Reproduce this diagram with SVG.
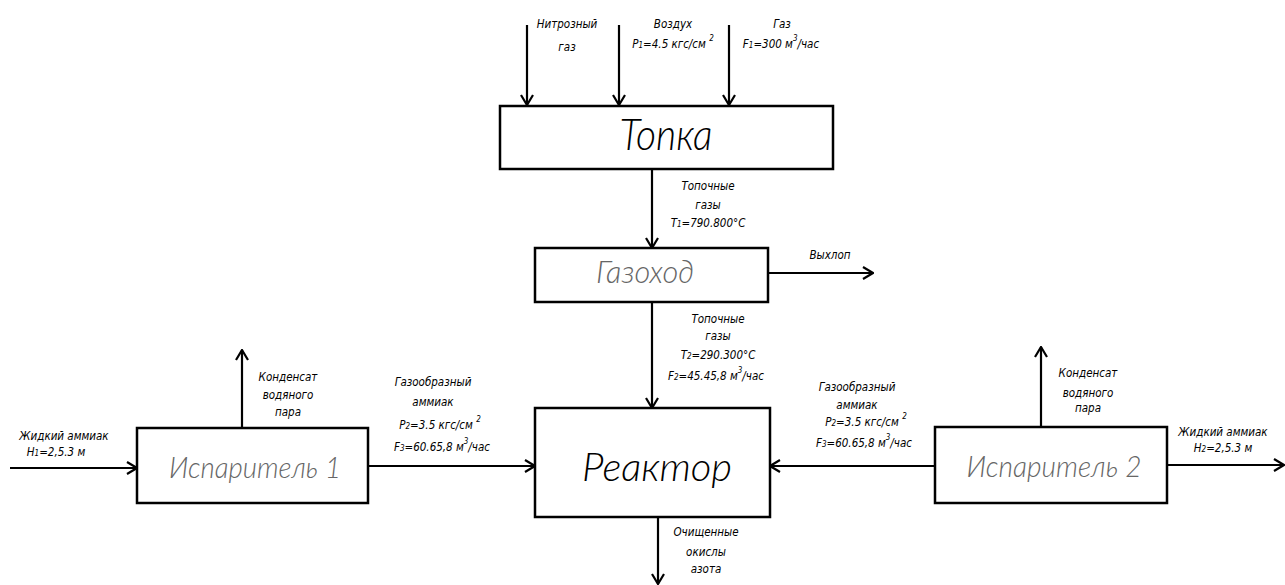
<svg xmlns="http://www.w3.org/2000/svg" width="1285" height="585" viewBox="0 0 1285 585">
<style>
.box{fill:#fff;stroke:#000;stroke-width:2.5}
.ln{fill:none;stroke:#000;stroke-width:2.2}
.lbl{font-family:"DejaVu Sans Condensed","DejaVu Sans",sans-serif;font-stretch:condensed;font-style:oblique;font-size:11.5px;fill:#000;text-anchor:middle}
.big{font-family:Lato,"DejaVu Sans",sans-serif;font-style:italic;font-weight:300;fill:#000;text-anchor:middle}
.gray{fill:#666}
.sub{font-size:8px}
.sup{font-size:8px}
</style>
<defs>
<marker id="ah" markerUnits="userSpaceOnUse" viewBox="0 0 12 14" refX="11" refY="7" markerWidth="12" markerHeight="14" orient="auto">
<path d="M1,1 L11,7 L1,13" fill="none" stroke="#000" stroke-width="2.2"/>
</marker>
</defs>
<rect width="1285" height="585" fill="#fff"/>

<g id="connectors">
<line class="ln" x1="527" y1="25" x2="527" y2="105" marker-end="url(#ah)"/>
<line class="ln" x1="619" y1="25" x2="619" y2="105" marker-end="url(#ah)"/>
<line class="ln" x1="729" y1="25" x2="729" y2="105" marker-end="url(#ah)"/>
<line class="ln" x1="652" y1="169" x2="652" y2="248" marker-end="url(#ah)"/>
<line class="ln" x1="768" y1="273" x2="873" y2="273" marker-end="url(#ah)"/>
<line class="ln" x1="652" y1="302" x2="652" y2="408" marker-end="url(#ah)"/>
<line class="ln" x1="658" y1="517" x2="658" y2="584" marker-end="url(#ah)"/>
<line class="ln" x1="10" y1="468" x2="137" y2="468" marker-end="url(#ah)"/>
<line class="ln" x1="242" y1="428" x2="242" y2="350" marker-end="url(#ah)"/>
<line class="ln" x1="368" y1="466" x2="535" y2="466" marker-end="url(#ah)"/>
<line class="ln" x1="935" y1="466" x2="770" y2="466" marker-end="url(#ah)"/>
<line class="ln" x1="1041" y1="427" x2="1041" y2="347" marker-end="url(#ah)"/>
<line class="ln" x1="1167" y1="465" x2="1284" y2="465" marker-end="url(#ah)"/>
</g>

<g id="topka">
<rect class="box" x="500" y="106" width="333" height="63"/>
<text class="big" x="666" y="150" font-size="44" textLength="93" lengthAdjust="spacingAndGlyphs">Топка</text>
</g>
<g id="gazohod">
<rect class="box" x="535" y="248" width="233" height="54"/>
<text class="big gray" x="645" y="283" font-size="32" textLength="98" lengthAdjust="spacingAndGlyphs">Газоход</text>
</g>
<g id="reaktor">
<rect class="box" x="535" y="408" width="235" height="109"/>
<text class="big" x="657" y="481" font-size="40" textLength="150" lengthAdjust="spacingAndGlyphs">Реактор</text>
</g>
<g id="isp1">
<rect class="box" x="137" y="428" width="231" height="75"/>
<text class="big gray" x="255" y="478" font-size="30" textLength="172" lengthAdjust="spacingAndGlyphs">Испаритель 1</text>
</g>
<g id="isp2">
<rect class="box" x="935" y="427" width="232" height="76"/>
<text class="big gray" x="1054" y="477" font-size="30" textLength="175" lengthAdjust="spacingAndGlyphs">Испаритель 2</text>
</g>

<g id="labels">
<text class="lbl" x="567" y="28">Нитрозный</text>
<text class="lbl" x="567" y="51">газ</text>
<text class="lbl" x="673" y="28">Воздух</text>
<text class="lbl" x="673" y="48">P<tspan class="sub">1</tspan>=4.5 кгс/см <tspan class="sup" dy="-7">2</tspan></text>
<text class="lbl" x="782" y="28">Газ</text>
<text class="lbl" x="781" y="48">F<tspan class="sub">1</tspan>=300 м<tspan class="sup" dy="-7">3</tspan><tspan dy="7">/час</tspan></text>

<text class="lbl" x="708" y="190">Топочные</text>
<text class="lbl" x="708" y="209">газы</text>
<text class="lbl" x="708" y="227">T<tspan class="sub">1</tspan>=790.800°C</text>

<text class="lbl" x="830" y="259">Выхлоп</text>

<text class="lbl" x="718" y="323">Топочные</text>
<text class="lbl" x="718" y="340">газы</text>
<text class="lbl" x="718" y="359">T<tspan class="sub">2</tspan>=290.300°C</text>
<text class="lbl" x="716" y="380">F<tspan class="sub">2</tspan>=45.45,8 м<tspan class="sup" dy="-7">3</tspan><tspan dy="7">/час</tspan></text>

<text class="lbl" x="288" y="381">Конденсат</text>
<text class="lbl" x="288" y="399">водяного</text>
<text class="lbl" x="288" y="416">пара</text>

<text class="lbl" x="64" y="440">Жидкий аммиак</text>
<text class="lbl" x="56" y="456">H<tspan class="sub">1</tspan>=2,5.3 м</text>

<text class="lbl" x="433" y="386">Газообразный</text>
<text class="lbl" x="433" y="406">аммиак</text>
<text class="lbl" x="440" y="429">P<tspan class="sub">2</tspan>=3.5 кгс/см <tspan class="sup" dy="-7">2</tspan></text>
<text class="lbl" x="442" y="451">F<tspan class="sub">3</tspan>=60.65,8 м<tspan class="sup" dy="-7">3</tspan><tspan dy="7">/час</tspan></text>

<text class="lbl" x="857" y="391">Газообразный</text>
<text class="lbl" x="857" y="409">аммиак</text>
<text class="lbl" x="866" y="426">P<tspan class="sub">2</tspan>=3.5 кгс/см <tspan class="sup" dy="-7">2</tspan></text>
<text class="lbl" x="864" y="447">F<tspan class="sub">3</tspan>=60.65,8 м<tspan class="sup" dy="-7">3</tspan><tspan dy="7">/час</tspan></text>

<text class="lbl" x="1088" y="377">Конденсат</text>
<text class="lbl" x="1088" y="397">водяного</text>
<text class="lbl" x="1088" y="412">пара</text>

<text class="lbl" x="1223" y="436">Жидкий аммиак</text>
<text class="lbl" x="1223" y="452">H<tspan class="sub">2</tspan>=2,5.3 м</text>

<text class="lbl" x="706" y="536">Очищенные</text>
<text class="lbl" x="706" y="556">окислы</text>
<text class="lbl" x="706" y="573">азота</text>
</g>
</svg>
